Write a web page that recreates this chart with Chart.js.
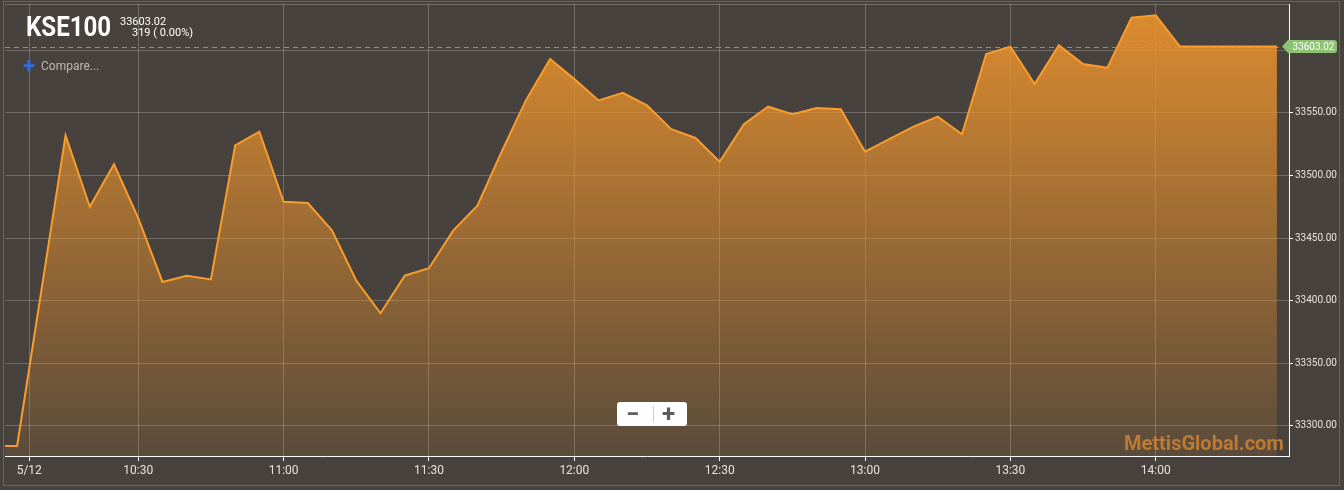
<!DOCTYPE html>
<html>
<head>
<meta charset="utf-8">
<script src="https://cdn.jsdelivr.net/npm/chart.js@4.4.1/dist/chart.umd.min.js"></script>
<style>
  html, body { margin: 0; padding: 0; background: #47423e; }
  #wrap { position: relative; width: 1344px; height: 490px; overflow: hidden; }
  #frame { position: absolute; left: 3px; top: 1px; width: 1335px; height: 483px; border: 1px solid #6a6561; pointer-events: none; }
  canvas { position: absolute; left: 0; top: 0; }
  .ov { position: absolute; white-space: nowrap; line-height: 1; font-family: Roboto, "Noto Sans", sans-serif; z-index: 2; }
  #title { left: 26px; top: 13px; font-size: 28px; font-weight: 700; color: #fff; transform: scaleX(0.86); transform-origin: left top; }
  #last { left: 120px; top: 16px; font-size: 11px; color: #fff; }
  #chg { left: 132px; top: 27px; font-size: 11px; color: #fff; }
  #cmpPlus { left: 23px; top: 55px; font-size: 22px; font-weight: 700; color: #2f6fd6; }
  #cmp { left: 41px; top: 60px; font-size: 12px; color: #bdbab6; }
  #mark { left: 1124px; top: 433px; font-size: 20px; font-weight: 700; color: rgba(200, 128, 52, 0.9); }
  #zoom { position: absolute; left: 617px; top: 402px; width: 70px; height: 24px; background: #fff; border-radius: 3px; z-index: 2; }
  #zoom .sep { position: absolute; left: 36px; top: 4px; width: 1px; height: 16px; background: #cfcfcf; }
  #zoom span { position: absolute; top: 0; line-height: 24px; font-family: Roboto, sans-serif; font-weight: 700; font-size: 24px; color: #5c5c5c; }
</style>
</head>
<body>
<div id="wrap">
  <canvas id="chartKse" width="1344" height="490"></canvas>
  <div id="frame"></div>
  <div class="ov" id="title">KSE100</div>
  <div class="ov" id="last">33603.02</div>
  <div class="ov" id="chg">319 ( 0.00%)</div>
  <div class="ov" id="cmpPlus">+</div>
  <div class="ov" id="cmp">Compare...</div>
  <div class="ov" id="mark">MettisGlobal.com</div>
  <div id="zoom"><span style="left:9px">−</span><div class="sep"></div><span style="left:45px">+</span></div>
</div>
<script>
// KSE100 intradía, puntos cada 5 minutos
const TIMES = [
  '10:00', '10:05', '10:10', '10:15', '10:20', '10:25', '10:30', '10:35', '10:40', '10:45', '10:50', '10:55',
  '11:00', '11:05', '11:10', '11:15', '11:20', '11:25', '11:30', '11:35', '11:40', '11:45', '11:50', '11:55',
  '12:00', '12:05', '12:10', '12:15', '12:20', '12:25', '12:30', '12:35', '12:40', '12:45', '12:50', '12:55',
  '13:00', '13:05', '13:10', '13:15', '13:20', '13:25', '13:30', '13:35', '13:40', '13:45', '13:50', '13:55',
  '14:00', '14:05', '14:10', '14:15', '14:20', '14:25',
];
const VALUES = [
  33284, 33284, 33408, 33532, 33475, 33509, 33466, 33415, 33420, 33417, 33524, 33535,
  33479, 33478, 33456, 33416, 33390, 33420, 33426, 33456, 33476, 33519, 33560, 33593,
  33577, 33560, 33566, 33556, 33537, 33530, 33511, 33541, 33555, 33549, 33554, 33553,
  33519, 33529, 33539, 33547, 33533, 33597, 33603, 33573, 33604, 33589, 33586, 33626,
  33628, 33603.02, 33603.02, 33603.02, 33603.02, 33603.02,
];
const LAST_VALUE = 33603.02;

const X_TICK_TIMES = ['10:07:30', '10:30', '11:00', '11:30', '12:00', '12:30', '13:00', '13:30', '14:00'];
const X_TICK_LABELS = ['5/12', '10:30', '11:00', '11:30', '12:00', '12:30', '13:00', '13:30', '14:00'];
const Y_TICKS = [33300, 33350, 33400, 33450, 33500, 33550, 33600];

const FONT = 'Roboto, "Noto Sans", sans-serif';
const GRID = 'rgba(255,255,255,0.22)';

// minutos desde las 10:00
function toMin(t) {
  const p = t.split(':').map(Number);
  return (p[0] - 10) * 60 + p[1] + (p[2] || 0) / 60;
}

const lastLine = {
  id: 'lastLine',
  beforeDatasetsDraw(chart) {
    const { ctx, chartArea: a, scales } = chart;
    const y = Math.round(scales.y.getPixelForValue(LAST_VALUE)) + 0.5;
    ctx.save();
    // borde superior del área
    ctx.strokeStyle = GRID;
    ctx.lineWidth = 1;
    ctx.beginPath(); ctx.moveTo(a.left, a.top + 0.5); ctx.lineTo(a.right, a.top + 0.5); ctx.stroke();
    ctx.strokeStyle = '#78a458';
    ctx.setLineDash([5, 4]);
    ctx.beginPath(); ctx.moveTo(a.left, y); ctx.lineTo(a.right, y); ctx.stroke();
    ctx.restore();
  },
  afterDraw(chart) {
    const { ctx, chartArea: a, scales } = chart;
    const y = scales.y.getPixelForValue(LAST_VALUE);
    const x0 = a.right - 7, x1 = a.right - 1, x2 = 1337, h = 6.5, r = 3;
    ctx.save();
    ctx.fillStyle = '#8cc373';
    ctx.beginPath();
    ctx.moveTo(x0, y);
    ctx.lineTo(x1, y - h);
    ctx.lineTo(x2 - r, y - h);
    ctx.quadraticCurveTo(x2, y - h, x2, y - h + r);
    ctx.lineTo(x2, y + h - r);
    ctx.quadraticCurveTo(x2, y + h, x2 - r, y + h);
    ctx.lineTo(x1, y + h);
    ctx.closePath();
    ctx.fill();
    ctx.fillStyle = '#fff';
    ctx.font = '10px ' + FONT;
    ctx.textAlign = 'center';
    ctx.textBaseline = 'middle';
    ctx.fillText(LAST_VALUE.toFixed(2), (x1 + x2) / 2 + 1, y + 0.5);
    ctx.restore();
  },
};

new Chart(document.getElementById('chartKse'), {
  type: 'line',
  data: {
    datasets: [{
      data: TIMES.map((t, i) => ({ x: toMin(t), y: VALUES[i] })),
      borderColor: '#f89c2c',
      borderWidth: 2,
      pointRadius: 0,
      tension: 0,
      fill: 'start',
      backgroundColor: (c) => {
        const a = c.chart.chartArea;
        if (!a) return 'rgba(0,0,0,0)';
        const g = c.chart.ctx.createLinearGradient(0, a.top, 0, a.bottom);
        g.addColorStop(0, 'rgba(234,146,44,0.93)');
        g.addColorStop(1, 'rgba(234,146,44,0.12)');
        return g;
      },
    }],
  },
  options: {
    responsive: false, animation: false, devicePixelRatio: 1,
    layout: { padding: { left: 5, top: 4, right: 0, bottom: 0 } },
    plugins: { legend: { display: false }, tooltip: { enabled: false } },
    scales: {
      x: {
        type: 'linear', min: 2.5, max: 267.5, z: 1,
        afterBuildTicks: s => { s.ticks = X_TICK_TIMES.map(t => ({ value: toMin(t) })); },
        afterFit: s => { s.height = 34; s.paddingLeft = 0; s.paddingRight = 0; },
        grid: { color: GRID, tickColor: '#ffffff', tickLength: 5 },
        border: { color: '#ffffff', width: 1 },
        ticks: {
          color: '#e4e2df', font: { family: FONT, size: 12 }, padding: 3,
          maxRotation: 0, autoSkip: false,
          callback: (v, i) => X_TICK_LABELS[i],
        },
      },
      y: {
        position: 'right', min: 33276, max: 33637, z: 1,
        afterBuildTicks: s => { s.ticks = Y_TICKS.map(v => ({ value: v })); },
        afterFit: s => { s.width = 55; s.paddingTop = 0; s.paddingBottom = 0; },
        grid: { color: GRID, tickColor: '#ffffff', tickLength: 4 },
        border: { color: '#ffffff', width: 1 },
        ticks: {
          color: '#e4e2df', font: { family: FONT, size: 10 }, padding: 2,
          callback: v => (v === 33600 ? '' : v.toFixed(2)),
        },
      },
    },
  },
  plugins: [lastLine],
});
</script>
</body>
</html>
